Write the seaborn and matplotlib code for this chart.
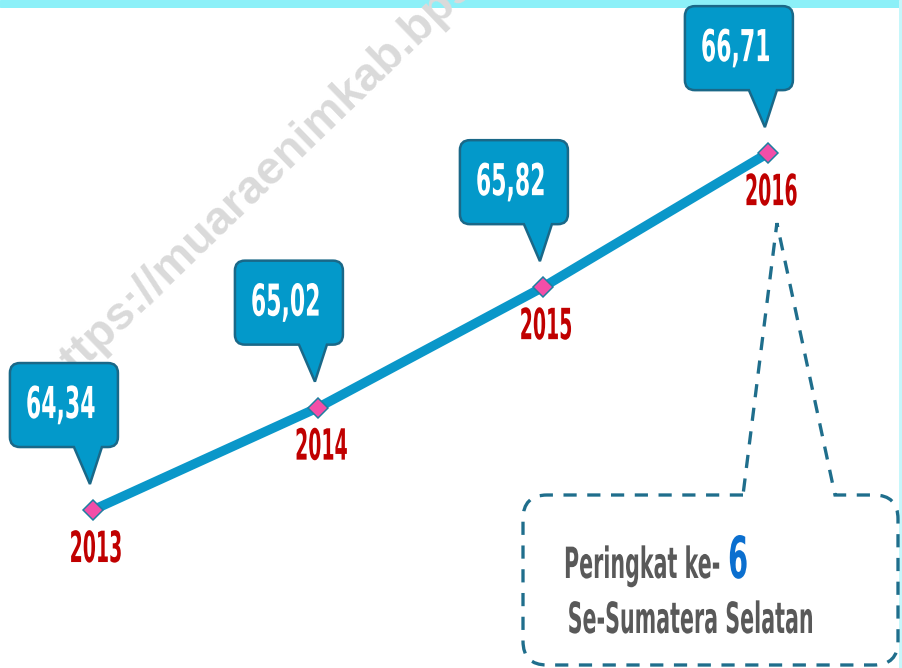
import numpy as np
import matplotlib
matplotlib.use("Agg")
import matplotlib.pyplot as plt
import matplotlib.patheffects as pe
from matplotlib.path import Path
from matplotlib.patches import PathPatch, Rectangle
from matplotlib.transforms import Affine2D, ScaledTranslation, IdentityTransform
import seaborn as sns
import pandas as pd

# data
years = [2013, 2014, 2015, 2016]
ipm = [64.34, 65.02, 65.82, 66.71]
ipm_labels = ["64,34", "65,02", "65,82", "66,71"]
year_labels = ["2013", "2014", "2015", "2016"]
rank_text = "Peringkat ke-"
rank_no = "6"
rank_region = "Se-Sumatera Selatan"
watermark = "https://muaraenimkab.bps.go.id"

W, H = 902, 668
sns.set_style("white")


class Squeeze(pe.AbstractPathEffect):
    # squeeze glyphs horizontally to get a condensed look
    def __init__(self, sx, anchor="center"):
        super().__init__()
        self.sx = sx
        self.anchor = anchor

    def draw_path(self, renderer, gc, tpath, affine, rgbFace=None):
        cx = 0
        if len(tpath.vertices) and self.anchor != "left":
            ext = tpath.get_extents()
            cx = ext.x1 if self.anchor == "right" else (ext.x0 + ext.x1) / 2
        t = Affine2D().translate(-cx, 0).scale(self.sx, 1).translate(cx, 0)
        renderer.draw_path(gc, tpath, t + affine, rgbFace)


def frac(x, yt):
    # pixel position (from top-left) -> axes fraction
    return x / W, 1 - yt / H


fig = plt.figure(figsize=(W / 72, H / 72), dpi=72)
ax = fig.add_axes([0, 0, 1, 1])

df = pd.DataFrame({"Tahun": years, "IPM": ipm})
sns.lineplot(data=df, x="Tahun", y="IPM", ax=ax, color="#0a97c9", linewidth=9.5,
             marker="D", markersize=14, markerfacecolor="#f24ea8",
             markeredgecolor="#1c7fa0", markeredgewidth=1.5, zorder=3)
ax.set_xlim(2012.587, 2016.596)
ax.set_ylim(63.291, 67.727)
ax.axis("off")

# cyan strips at the edges
ax.add_patch(Rectangle(frac(0, 7), 1, 7 / H, transform=ax.transAxes,
                       color="#8cf0f8", zorder=0, clip_on=False))
ax.add_patch(Rectangle(frac(899, H), 3 / W, 1, transform=ax.transAxes,
                       color="#c6f7fb", zorder=0, clip_on=False))

# watermark: put the start of "muara..." at (168, 284), so measure the prefix
wm_font = dict(fontsize=47, fontweight="bold", family="Liberation Sans")
ang = 44
tmp = ax.text(0, 0, watermark[:watermark.index("m")], **wm_font)
pre_w = tmp.get_window_extent(fig.canvas.get_renderer()).width
tmp.remove()
sx0 = 168 - pre_w * np.cos(np.radians(ang))
sy0 = 284 + pre_w * np.sin(np.radians(ang))
ax.text(*frac(sx0, sy0), watermark, transform=ax.transAxes, rotation=ang,
        rotation_mode="anchor", ha="left", va="baseline", color="#dadada",
        zorder=1, **wm_font)

# speech bubbles (offsets in pixels from the data point)
x0, x1, y0, y1, r = -83, 25, 63, 147, 10
tb0, tb1, tip = -19, 9, (-3, 26)
codes = [Path.MOVETO, Path.LINETO, Path.LINETO, Path.LINETO, Path.LINETO,
         Path.CURVE3, Path.CURVE3, Path.LINETO, Path.CURVE3, Path.CURVE3,
         Path.LINETO, Path.CURVE3, Path.CURVE3, Path.LINETO, Path.CURVE3,
         Path.CURVE3, Path.CLOSEPOLY]
verts = [(x0 + r, y0), (tb0, y0), tip, (tb1, y0), (x1 - r, y0),
         (x1, y0), (x1, y0 + r), (x1, y1 - r), (x1, y1), (x1 - r, y1),
         (x0 + r, y1), (x0, y1), (x0, y1 - r), (x0, y0 + r), (x0, y0),
         (x0 + r, y0), (x0 + r, y0)]
bubble = Path(verts, codes)

for x, y, lab, yl in zip(years, ipm, ipm_labels, year_labels):
    ax.add_patch(PathPatch(bubble, transform=ScaledTranslation(x, y, ax.transData),
                           facecolor="#0399ca", edgecolor="#1a6888", lw=2.5,
                           zorder=4, clip_on=False))
    ax.annotate(lab, (x, y), xytext=(-67, 92), textcoords="offset points",
                ha="left", va="baseline", fontsize=44, fontweight="bold",
                color="white", zorder=5, path_effects=[Squeeze(0.5, "left")])
    ax.annotate(yl, (x, y), xytext=(3, -52), textcoords="offset points",
                ha="center", va="baseline", fontsize=43, fontweight="bold",
                color="#c00000", zorder=5, path_effects=[Squeeze(0.44)])

# dashed callout box pointing at 2016
tip_d = ax.transData.transform((years[-1], ipm[-1])) + [9, -70]
bl, br, bt, bb, rr = 523, 898, 495, 665, 24
pts = lambda x, yt: (x, H - yt)
c_verts = [pts(743, bt), pts(bl + rr, bt), pts(bl, bt), pts(bl, bt + rr),
           pts(bl, bb - rr), pts(bl, bb), pts(bl + rr, bb),
           pts(br - rr, bb), pts(br, bb), pts(br, bb - rr),
           pts(br, bt + rr), pts(br, bt), pts(br - rr, bt),
           pts(835, bt), tuple(tip_d), pts(743, bt)]
c_codes = [Path.MOVETO, Path.LINETO, Path.CURVE3, Path.CURVE3,
           Path.LINETO, Path.CURVE3, Path.CURVE3,
           Path.LINETO, Path.CURVE3, Path.CURVE3,
           Path.LINETO, Path.CURVE3, Path.CURVE3,
           Path.LINETO, Path.LINETO, Path.LINETO]
ax.add_patch(PathPatch(Path(c_verts, c_codes), transform=IdentityTransform(),
                       facecolor="none", edgecolor="#1f6e8c", lw=3.3,
                       linestyle=(0, (4, 3.2)), zorder=2, clip_on=False))

ax.text(*frac(722, 578), rank_text, transform=ax.transAxes, ha="right",
        va="baseline", fontsize=43, fontweight="bold", color="#595959",
        path_effects=[Squeeze(0.48, "right")])
ax.text(*frac(728, 578), rank_no, transform=ax.transAxes, ha="left",
        va="baseline", fontsize=58, fontweight="bold", color="#0b6fcf",
        path_effects=[Squeeze(0.5, "left")])
ax.text(*frac(816, 633), rank_region, transform=ax.transAxes, ha="right",
        va="baseline", fontsize=43, fontweight="bold", color="#595959",
        path_effects=[Squeeze(0.48, "right")])

fig.savefig("out.png", dpi=72, facecolor="white")
